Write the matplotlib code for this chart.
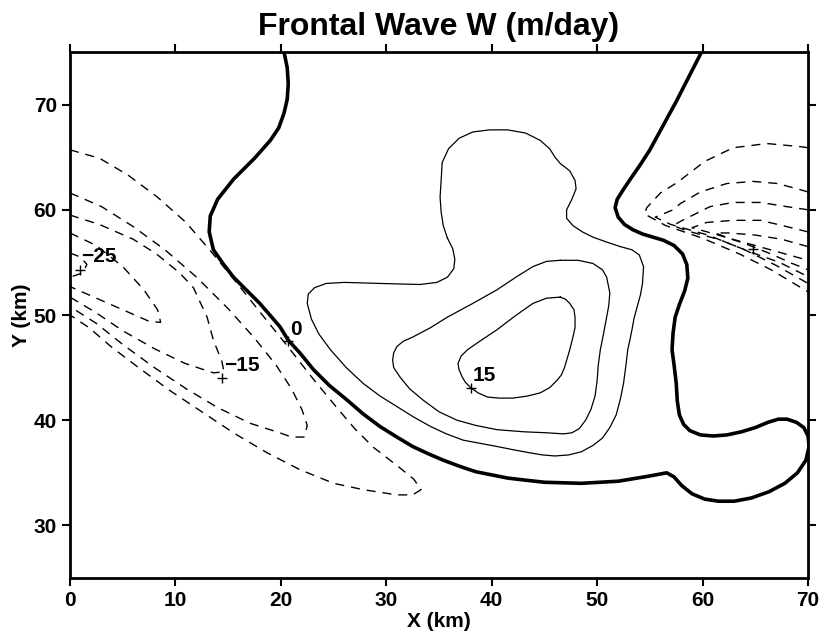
import matplotlib
matplotlib.use("Agg")
import matplotlib.pyplot as plt

plt.rcParams['font.family'] = ['Liberation Sans Narrow', 'Liberation Sans', 'DejaVu Sans']
plt.rcParams['font.weight'] = 'bold'

# contour 0 (thick solid)
zero_x = [20.3, 20.6, 20.7, 20.6, 20.3, 19.8, 19.0, 17.5, 15.5, 14.0, 13.3, 13.2, 13.6, 14.5,
          15.5, 18.0, 19.9, 20.7, 21.8, 23.1, 24.6, 26.3, 27.8, 29.4, 31.0, 32.5, 34.0, 35.4,
          37.0, 38.5, 40.0, 41.5, 43.2, 45.0, 48.5, 52.0, 55.0, 56.6, 57.3, 58.0, 59.0, 60.2,
          61.5, 63.0, 64.6, 66.3, 67.8, 69.0, 69.8, 70.1, 70.0, 69.6, 68.9, 68.0, 67.2, 66.2,
          65.0, 63.7, 62.3, 61.0, 59.8, 58.8, 58.2, 57.8, 57.6, 57.5, 57.3, 57.1, 57.2, 57.4,
          57.8, 58.3, 58.6, 58.5, 58.1, 57.3, 56.3, 55.3, 54.3, 53.4, 52.6, 52.0, 51.7, 51.9,
          52.4, 53.2, 54.1, 55.0, 57.5, 59.9]
zero_y = [75.0, 73.5, 72.0, 70.5, 69.2, 67.8, 66.6, 64.9, 62.9, 61.0, 59.4, 57.9, 56.2, 54.9,
          53.6, 51.1, 48.9, 47.6, 46.4, 44.8, 43.3, 41.9, 40.6, 39.4, 38.4, 37.5, 36.8, 36.2,
          35.6, 35.1, 34.8, 34.5, 34.3, 34.1, 34.0, 34.2, 34.7, 35.0, 34.6, 33.8, 33.0, 32.5,
          32.3, 32.3, 32.6, 33.2, 34.0, 35.0, 36.2, 37.5, 38.5, 39.3, 39.8, 40.1, 40.1, 39.8,
          39.3, 38.9, 38.6, 38.5, 38.6, 39.0, 39.6, 40.5, 41.8, 43.5, 45.2, 46.7, 48.3, 49.8,
          51.0, 52.3, 53.5, 54.8, 55.8, 56.6, 57.1, 57.4, 57.7, 58.1, 58.6, 59.3, 60.2, 61.0,
          61.8, 63.0, 64.3, 65.7, 70.3, 75.0]

# positive contours 5, 10, 15 (thin solid)
w5_x = [35.8, 35.4, 35.2, 35.1, 35.2, 35.3, 35.9, 36.9, 38.2, 39.8, 41.5, 43.2, 44.6, 45.5,
        46.0, 46.5, 47.4, 47.9, 48.0, 47.6, 47.1, 47.1, 47.7, 48.6, 49.6, 51.0, 52.2, 53.3,
        54.0, 54.4, 54.3, 54.1, 53.8, 53.5, 53.3, 53.1, 52.9, 52.7, 52.5, 52.2, 51.8, 51.2,
        50.5, 49.6, 48.5, 47.3, 46.0, 44.8, 43.6, 42.0, 40.5, 38.9, 37.3, 35.7, 34.2, 32.6,
        31.0, 29.4, 27.8, 26.2, 24.7, 23.6, 22.9, 22.5, 22.6, 23.2, 24.3, 26.0, 29.4, 33.2,
        34.8, 35.8, 36.4, 36.5, 36.3, 35.8]
w5_y = [57.3, 58.5, 59.8, 61.2, 62.8, 64.5, 65.8, 66.8, 67.4, 67.6, 67.6, 67.3, 66.6, 65.8,
        65.0, 64.4, 63.7, 62.8, 62.0, 61.0, 60.0, 59.2, 58.5, 57.9, 57.4, 56.9, 56.5, 56.2,
        55.7, 54.6, 53.0, 51.9, 50.8, 49.7, 48.6, 47.6, 46.7, 45.0, 43.5, 42.0, 40.5, 39.3,
        38.3, 37.6, 37.0, 36.7, 36.6, 36.7, 36.9, 37.2, 37.5, 37.8, 38.1, 38.7, 39.4, 40.3,
        41.3, 42.3, 43.5, 45.0, 46.7, 48.2, 49.6, 51.1, 52.0, 52.6, 53.0, 53.1, 53.0, 52.9,
        53.1, 53.6, 54.4, 55.3, 56.3, 57.3]
w10_x = [46.5, 48.2, 49.6, 50.5, 50.9, 51.2, 51.1, 50.9, 50.6, 50.3, 50.1, 50.0, 49.8, 49.4,
         48.9, 48.3, 47.6, 46.8, 45.3, 43.0, 40.5, 38.5, 36.7, 35.0, 33.5, 32.2, 31.3, 30.7,
         30.6, 30.7, 31.0, 31.6, 32.5, 34.2, 35.8, 38.2, 40.5, 42.3, 43.9, 45.2, 46.5]
w10_y = [55.2, 55.2, 54.9, 54.3, 53.6, 52.1, 50.9, 49.8, 48.2, 46.7, 45.2, 43.8, 42.3, 41.0,
         40.0, 39.2, 38.8, 38.7, 38.8, 38.9, 39.1, 39.5, 40.0, 40.8, 41.9, 43.0, 44.1, 45.0,
         45.7, 46.4, 47.0, 47.5, 47.9, 48.8, 49.8, 51.1, 52.4, 53.6, 54.6, 55.1, 55.2]
w15_x = [46.5, 47.0, 47.4, 47.8, 47.9, 47.9, 47.7, 47.4, 46.9, 46.6, 46.2, 45.5, 44.6, 43.4,
         42.0, 40.7, 39.6, 38.7, 38.0, 37.5, 37.2, 36.9, 36.8, 37.1, 37.7, 39.0, 40.5, 42.2,
         43.9, 45.2, 46.5]
w15_y = [51.7, 51.5, 51.1, 50.5, 49.8, 48.8, 47.9, 46.7, 45.0, 44.3, 43.8, 43.1, 42.6, 42.3,
         42.1, 42.1, 42.2, 42.6, 43.1, 43.6, 44.1, 44.8, 45.4, 46.1, 46.7, 47.6, 48.6, 49.9,
         51.1, 51.6, 51.7]

# negative contours, left group (dashed)
n5_x = [0.0, 2.8, 5.5, 8.3, 11.0, 13.4, 15.7, 18.0, 20.5, 23.0, 25.3, 27.0, 28.8, 31.0, 32.6,
        33.3, 32.5, 31.0, 27.8, 25.0, 21.8, 18.7, 15.5, 12.5, 9.5, 6.5, 4.0, 1.8, 0.0]
n5_y = [65.7, 64.9, 63.3, 61.2, 58.8, 56.0, 53.2, 50.3, 47.2, 44.0, 41.2, 39.2, 37.4, 35.7, 34.4,
        33.4, 32.9, 32.9, 33.4, 34.0, 35.3, 36.9, 38.8, 40.8, 42.8, 45.0, 46.9, 48.8, 50.0]
n10_x = [0.0, 3.0, 6.0, 9.0, 12.0, 15.0, 17.5, 19.5, 21.0, 22.0, 22.5, 22.2, 21.0, 19.9, 17.1,
         14.0, 11.0, 8.0, 5.0, 2.5, 0.0]
n10_y = [61.6, 60.3, 58.4, 56.2, 53.6, 50.6, 47.8, 45.3, 43.0, 41.0, 39.5, 38.4, 38.4, 38.8, 39.7,
         41.2, 43.0, 45.0, 47.2, 49.2, 50.8]
n15_x = [0.0, 2.8, 6.0, 8.2, 10.4, 11.7, 13.0, 13.6, 14.4, 14.6, 13.6, 10.9, 8.0, 5.0, 2.5, 0.0]
n15_y = [59.5, 58.6, 57.2, 55.8, 54.0, 52.6, 49.8, 47.6, 45.6, 44.6, 44.5, 45.4, 46.8, 48.5, 50.2, 51.7]
n20_x = [0.0, 2.5, 5.0, 7.0, 8.3, 8.6, 7.5, 5.0, 2.5, 0.0]
n20_y = [57.8, 56.6, 54.6, 52.4, 50.5, 49.3, 49.4, 50.5, 51.6, 52.7]
n25_x = [0.0, 1.0, 1.6, 1.2, 0.0]
n25_y = [55.9, 55.5, 54.8, 54.0, 53.6]

# negative contours, right group (dashed)
r1_x = [70.0, 69.3, 66.1, 62.9, 60.2, 57.6, 56.0, 54.7, 54.5, 56.5, 60.0, 63.5, 66.5, 69.0, 70.0]
r1_y = [65.9, 66.0, 66.3, 65.9, 64.6, 62.6, 61.6, 60.2, 59.6, 58.5, 57.3, 55.8, 54.3, 52.8, 52.2]
r2_x = [70.0, 69.3, 67.1, 64.8, 62.3, 59.8, 57.9, 57.2, 55.5, 57.0, 60.5, 64.0, 67.0, 69.3, 70.0]
r2_y = [61.7, 61.9, 62.5, 62.7, 62.5, 61.7, 60.6, 60.0, 59.3, 58.6, 57.6, 56.2, 54.7, 53.4, 53.0]
r3_x = [70.0, 68.0, 65.5, 62.9, 60.7, 59.1, 57.9, 57.2, 58.5, 61.5, 64.5, 67.3, 69.5, 70.0]
r3_y = [60.0, 60.3, 60.7, 60.7, 60.3, 59.5, 58.9, 58.5, 58.0, 57.2, 56.0, 55.0, 53.9, 53.6]
r4_x = [70.0, 68.0, 65.5, 62.9, 60.4, 59.0, 61.5, 64.0, 66.5, 68.5, 70.0]
r4_y = [57.9, 58.4, 59.0, 59.0, 58.8, 58.3, 57.6, 56.8, 55.8, 54.9, 54.3]
r5_x = [70.0, 67.5, 65.0, 62.5, 61.2, 62.5, 65.0, 67.5, 70.0]
r5_y = [56.5, 57.2, 57.6, 57.8, 57.8, 57.3, 56.6, 55.9, 55.2]

# contour labels and their marker points
label_text = ['0', '15', '\u221225', '\u221215']
label_x = [21.4, 39.3, 2.7, 16.3]
label_y = [48.6, 44.25, 55.6, 45.2]
mark_x = [20.7, 38.0, 0.9, 14.4, 64.8]
mark_y = [47.5, 43.1, 54.3, 44.0, 56.3]

fig = plt.figure(figsize=(8.2, 6.43), dpi=100)
ax = fig.add_axes([0.0854, 0.1011, 0.9, 0.818])

ax.plot(zero_x, zero_y, color='black', lw=2.6, solid_joinstyle='round')
for xs, ys in [(w5_x, w5_y), (w10_x, w10_y), (w15_x, w15_y)]:
    ax.plot(xs, ys, color='black', lw=0.9, solid_joinstyle='round')

dash = (0, (6.5, 5))
for xs, ys in [(n5_x, n5_y), (n10_x, n10_y), (n15_x, n15_y), (n20_x, n20_y), (n25_x, n25_y),
               (r1_x, r1_y), (r2_x, r2_y), (r3_x, r3_y), (r4_x, r4_y), (r5_x, r5_y)]:
    ax.plot(xs, ys, color='black', lw=1.0, linestyle=dash)

ax.plot(mark_x, mark_y, '+', color='black', ms=7, mew=1.0)
for t, x, y in zip(label_text, label_x, label_y):
    ax.text(x, y, t, fontsize=15, fontweight='bold', ha='center', va='center')

ax.set_xlim(0, 70)
ax.set_ylim(25, 75)
ax.set_xticks(range(0, 71, 10))
ax.set_yticks(range(30, 71, 10))
ax.tick_params(direction='out', length=6, width=1.5, labelsize=15,
               top=True, right=True, labeltop=False, labelright=False)
for s in ax.spines.values():
    s.set_linewidth(2.0)

ax.set_xlabel('X (km)', fontsize=15, fontweight='bold', labelpad=1)
ax.set_ylabel('Y (km)', fontsize=15, fontweight='bold', labelpad=2)
ax.set_title('Frontal Wave W (m/day)', fontsize=23, fontweight='bold', pad=12)

fig.savefig('out.png', dpi=100)
